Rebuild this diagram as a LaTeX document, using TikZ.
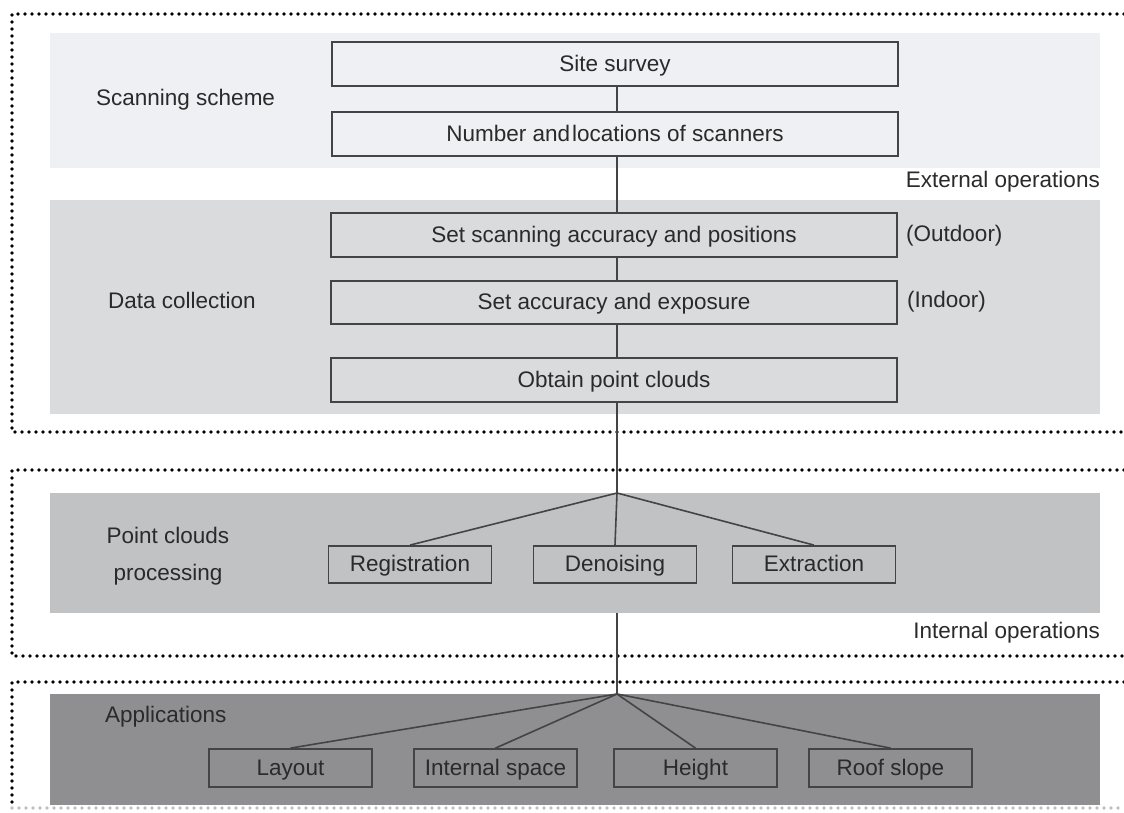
\documentclass[tikz,border=0pt]{standalone}
\usepackage{fontspec}
\setmainfont{Liberation Sans}
\definecolor{bandA}{HTML}{EEF0F3}
\definecolor{bandB}{HTML}{D9DBDD}
\definecolor{bandC}{HTML}{C1C2C4}
\definecolor{bandD}{HTML}{8F8F91}
\definecolor{txt}{HTML}{2A2A2A}
\definecolor{edge}{HTML}{444444}
\tikzset{
  band/.style={draw=none, inner sep=0pt, minimum width=1050pt},
  stepbox/.style={draw=edge, line width=1.8pt, inner sep=0pt, minimum width=566pt, minimum height=44pt, font=\fontsize{22.5}{27}\selectfont, text=txt, text height=18pt, text depth=4pt},
  smallbox/.style={draw=edge, line width=1.8pt, inner sep=0pt, minimum width=163pt, minimum height=38pt, font=\fontsize{22.5}{27}\selectfont, text=txt, text height=18pt, text depth=4pt},
  lbl/.style={font=\fontsize{22.5}{27}\selectfont, text=txt, inner sep=0pt},
  link/.style={draw=edge, line width=1.6pt},
  dotline/.style={line width=3.8pt, dash pattern=on 0pt off 7pt, line cap=round, black},
}
\begin{document}
\begin{tikzpicture}[x=1pt,y=-1pt]
\useasboundingbox (0,0) rectangle (1124,812);
% dotted frames
\draw[dotline] (1124,14) -- (12,14) -- (12,432) -- (1124,432);
\draw[dotline] (1124,470) -- (12,470) -- (12,656) -- (1124,656);
\draw[dotline] (1124,682) -- (12,682) -- (12,808);
\draw[dotline, black!25] (12,808) -- (1124,808);
% bands
\node[band, fill=bandA, minimum height=135pt] (scanband) at (575,100.5) {};
\node[band, fill=bandB, minimum height=214pt] (databand) at (575,307) {};
\node[band, fill=bandC, minimum height=120pt] (procband) at (575,553) {};
\node[band, fill=bandD, minimum height=111pt] (appband) at (575,749.5) {};
% labels
\node[lbl, anchor=west] (lscan) at (96,100) {Scanning scheme};
\node[lbl, anchor=west] (ldata) at (108,300) {Data collection};
\node[lbl, align=center, font=\fontsize{22.5}{37}\selectfont] (lproc) at (168,556) {Point clouds\\processing};
\node[lbl, anchor=west] (lapp) at (105,717) {Applications};
\node[lbl, anchor=east] (lext) at (1100,182) {External operations};
\node[lbl, anchor=east] (lint) at (1100,633) {Internal operations};
\node[lbl, anchor=west] (lout) at (906,236) {(Outdoor)};
\node[lbl, anchor=west] (lin) at (907,302) {(Indoor)};
% step boxes
\node[stepbox] (ss) at (615,64) {Site survey};
\node[stepbox] (num) at (615,134) {Number and\hspace{2pt}locations of scanners};
\node[stepbox] (sa) at (614,235) {Set scanning accuracy and positions};
\node[stepbox, minimum height=43pt] (acc) at (614,302.5) {Set accuracy and exposure};
\node[stepbox] (obt) at (614,380) {Obtain point clouds};
% processing boxes
\node[smallbox, minimum height=37pt] (reg) at (410,564.5) {Registration};
\node[smallbox, minimum height=37pt] (den) at (615,564.5) {Denoising};
\node[smallbox, minimum height=37pt] (ext) at (814,564.5) {Extraction};
% application boxes
\node[smallbox] (lay) at (290.5,768) {Layout};
\node[smallbox] (ins) at (495.5,768) {Internal space};
\node[smallbox] (hei) at (695.5,768) {Height};
\node[smallbox] (roof) at (890.5,768) {Roof slope};
% branch points
\coordinate (b1) at (617,493);
\coordinate (b2) at (617,694);
% connectors
\draw[link] (ss.south -| b1) -- (num.north -| b1);
\draw[link] (num.south -| b1) -- (sa.north -| b1);
\draw[link] (sa.south -| b1) -- (acc.north -| b1);
\draw[link] (acc.south -| b1) -- (obt.north -| b1);
\draw[link] (obt.south -| b1) -- (b1);
\draw[link] (b1) -- (reg.north);
\draw[link] (b1) -- (den.north);
\draw[link] (b1) -- (ext.north);
\draw[link] (procband.south -| b2) -- (b2);
\draw[link] (b2) -- (lay.north);
\draw[link] (b2) -- (ins.north);
\draw[link] (b2) -- (hei.north);
\draw[link] (b2) -- (roof.north);
\end{tikzpicture}
\end{document}
